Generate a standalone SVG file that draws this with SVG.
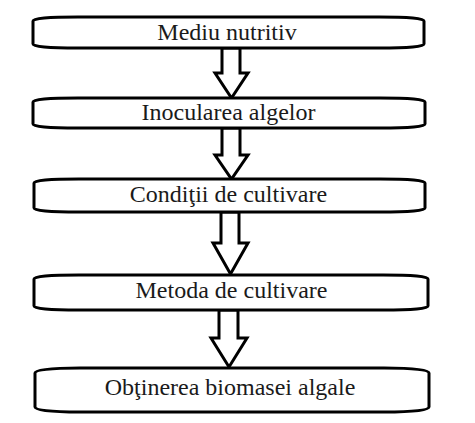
<svg xmlns="http://www.w3.org/2000/svg" width="475" height="423" viewBox="0 0 475 423">
<style>
.box{fill:#fff;stroke:#000;stroke-width:3;stroke-linejoin:round}
.arr{fill:#fff;stroke:#000;stroke-width:3;stroke-linejoin:miter}
.lbl{font-family:"Liberation Serif","Times New Roman",serif;font-size:24px;fill:#1a1a1a;text-anchor:middle}
</style>
<rect width="475" height="423" fill="#fff"/>
<g id="connectors">
<polygon class="arr" points="222,48 240,48 240,73 248,73 231.5,98 215,73 222,73"/>
<polygon class="arr" points="222,128 240,128 240,155 248,155 231.5,179 215,155 222,155"/>
<polygon class="arr" points="221,212 239,212 239,243 248,243 230.5,274 213,243 221,243"/>
<polygon class="arr" points="219,310 238,310 238,338 247,338 229,367 211,338 219,338"/>
</g>
<g id="node1">
<path class="box" d="M33,21 Q33,17 78,17 L379,17 Q424,17 424,21 L424,44 Q424,48 379,48 L78,48 Q33,48 33,44 Z"/>
<text class="lbl" x="227" y="40">Mediu nutritiv</text>
</g>
<g id="node2">
<path class="box" d="M33,102 Q33,98 78,98 L380,98 Q425,98 425,102 L425,124 Q425,128 380,128 L78,128 Q33,128 33,124 Z"/>
<text class="lbl" x="228.5" y="120">Inocularea algelor</text>
</g>
<g id="node3">
<path class="box" d="M34,183 Q34,179 79,179 L380,179 Q425,179 425,183 L425,208 Q425,212 380,212 L79,212 Q34,212 34,208 Z"/>
<text class="lbl" x="228.5" y="202">Condiţii de cultivare</text>
</g>
<g id="node4">
<path class="box" d="M34,279 Q34,275 79,275 L383,275 Q428,275 428,279 L428,306 Q428,310 383,310 L79,310 Q34,310 34,306 Z"/>
<text class="lbl" x="231.5" y="298">Metoda de cultivare</text>
</g>
<g id="node5">
<path class="box" d="M35,373 Q35,368 80,368 L384,368 Q429,368 429,373 L429,407 Q429,412 384,412 L80,412 Q35,412 35,407 Z"/>
<text class="lbl" x="230" y="395">Obţinerea biomasei algale</text>
</g>
</svg>
